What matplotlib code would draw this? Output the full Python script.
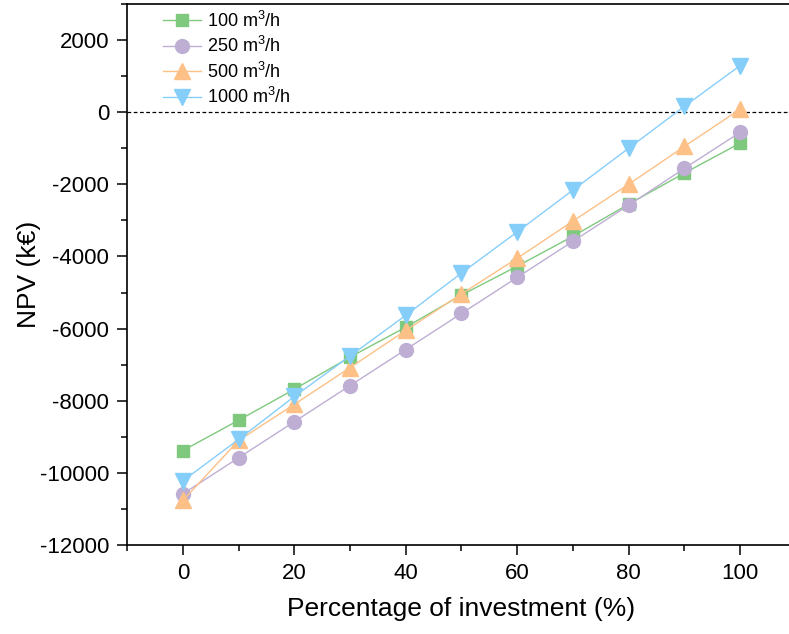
import matplotlib
matplotlib.use("Agg")
import matplotlib.pyplot as plt
from matplotlib.ticker import MultipleLocator

plt.rcParams['font.family'] = ['Liberation Sans', 'DejaVu Sans']
plt.rcParams['mathtext.fontset'] = 'custom'
plt.rcParams['mathtext.rm'] = 'Liberation Sans'
plt.rcParams['axes.unicode_minus'] = False

x = [0, 10, 20, 30, 40, 50, 60, 70, 80, 90, 100]
npv_100 = [-9380, -8540, -7680, -6790, -5960, -5070, -4270, -3440, -2550, -1690, -860]
npv_250 = [-10580, -9580, -8580, -7580, -6580, -5580, -4580, -3580, -2580, -1560, -560]
npv_500 = [-10760, -9100, -8100, -7080, -6050, -5040, -4050, -3020, -2000, -950, 80]
npv_1000 = [-10220, -9070, -7880, -6760, -5630, -4460, -3320, -2160, -1000, 160, 1290]

labels = ['100 m$^3$/h', '250 m$^3$/h', '500 m$^3$/h', '1000 m$^3$/h']
colors = ['#7fc97f', '#beaed4', '#fdc086', '#86cefa']
markers = ['s', 'o', '^', 'v']
msizes = [9, 10, 11, 11]

fig = plt.figure(figsize=(7.89, 6.34), dpi=100)
ax = fig.add_axes([127.3 / 789, 1 - 545 / 634, 668.4 / 789, 541 / 634])

for ys, lab, c, m, ms in zip([npv_100, npv_250, npv_500, npv_1000], labels, colors, markers, msizes):
    ax.plot(x, ys, color=c, marker=m, markersize=ms, linewidth=1.0, label=lab,
            markeredgecolor=c)

ax.axhline(0, color='black', linestyle=(0, (3, 2)), linewidth=0.9, zorder=0)

ax.set_xlim(-10, 110)
ax.set_ylim(-12000, 3000)
ax.xaxis.set_major_locator(MultipleLocator(20))
ax.xaxis.set_minor_locator(MultipleLocator(10))
ax.yaxis.set_major_locator(MultipleLocator(2000))
ax.yaxis.set_minor_locator(MultipleLocator(1000))
ax.set_yticks([-12000, -10000, -8000, -6000, -4000, -2000, 0, 2000])

for s in ax.spines.values():
    s.set_linewidth(1.2)

ax.tick_params(axis='both', which='major', direction='out', length=7, width=1.1,
               labelsize=16, pad=6)
ax.tick_params(axis='both', which='minor', direction='out', length=4, width=1.1)

ax.set_xlabel('Percentage of investment (%)', fontsize=19, labelpad=9)
ax.set_ylabel('NPV (k€)', fontsize=19, labelpad=-1)

leg = ax.legend(loc='upper left', bbox_to_anchor=(0.047, 0.996), frameon=False,
                fontsize=13, handlelength=2.1, handletextpad=0.3,
                labelspacing=0.3, borderaxespad=0.05, borderpad=0.2)

fig.savefig('out.png', dpi=100)
